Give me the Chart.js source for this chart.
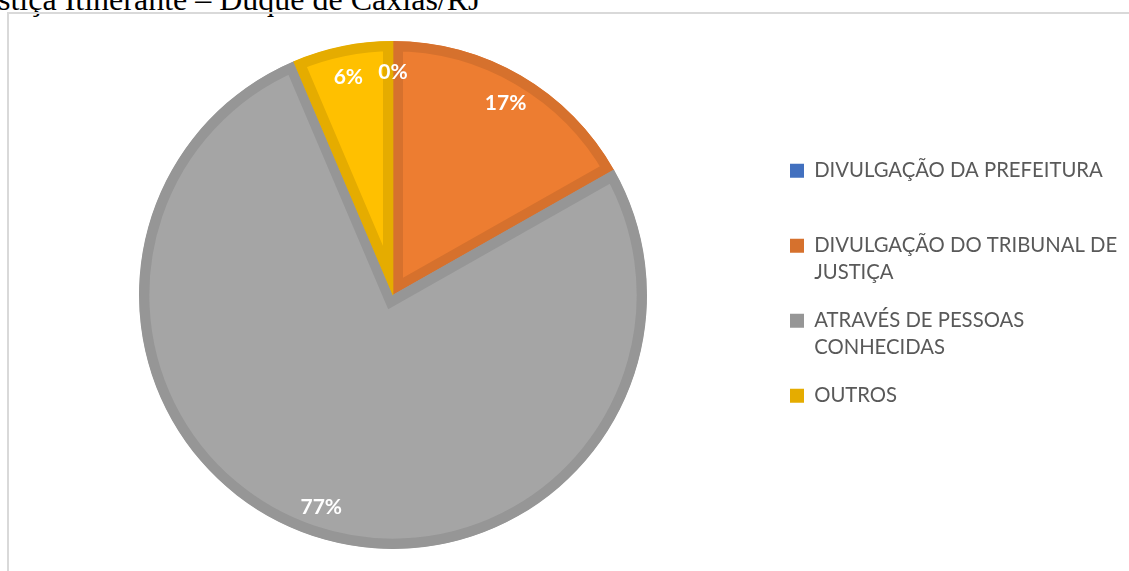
<!DOCTYPE html>
<html>
<head>
<meta charset="utf-8">
<script src="https://cdn.jsdelivr.net/npm/chart.js@4.4.1/dist/chart.umd.min.js"></script>
<style>
  html, body { margin: 0; padding: 0; background: #fff; overflow: hidden; }
  body { width: 1129px; height: 571px; position: relative; }
  #title { position: absolute; left: -2px; top: -17px; font-family: "Liberation Serif", "DejaVu Serif", serif; font-size: 32px; line-height: 1; color: #000; white-space: nowrap; }
  #frame { position: absolute; left: 7px; top: 12px; width: 1140px; height: 580px; border-left: 2px solid #d9d9d9; border-top: 2px solid #d9d9d9; background: transparent; }
  #wrap { position: absolute; left: 0; top: 0; width: 1129px; height: 571px; }
</style>
</head>
<body>
<div id="title">stiça Itinerante – Duque de Caxias/RJ</div>
<div id="frame"></div>
<div id="wrap"><canvas id="c"></canvas></div>
<script>
const categories = [
  ["DIVULGAÇÃO DA PREFEITURA", ""],
  ["DIVULGAÇÃO DO TRIBUNAL DE", "JUSTIÇA"],
  ["ATRAVÉS DE PESSOAS", "CONHECIDAS"],
  ["OUTROS", ""]
];
const shares = [0, 16.8, 76.8, 6.4];
const fillColors = ["#4472C4", "#ED7D31", "#A5A5A5", "#FFC000"];
const borderColors = ["#4270BF", "#D6712D", "#969696", "#E5AC00"];

const pieLabels = {
  id: 'pieLabels',
  afterDatasetsDraw(chart) {
    const ctx = chart.ctx;
    const meta = chart.getDatasetMeta(0);
    const data = chart.data.datasets[0].data;
    const total = data.reduce((a, b) => a + b, 0);
    ctx.save();
    ctx.fillStyle = '#fff';
    ctx.font = 'bold 21px Lato, "Open Sans", sans-serif';
    ctx.textAlign = 'center';
    ctx.textBaseline = 'middle';
    meta.data.forEach((arc, i) => {
      const p = arc.getProps(['x', 'y', 'startAngle', 'endAngle', 'outerRadius'], true);
      const mid = (p.startAngle + p.endAngle) / 2;
      const r = p.outerRadius * 0.88;
      const txt = Math.round(data[i] / total * 100) + '%';
      ctx.fillText(txt, p.x + Math.cos(mid) * r, p.y + Math.sin(mid) * r + 1);
    });
    ctx.restore();
  }
};

const legendShift = {
  id: 'legendShift',
  afterLayout(chart) {
    if (chart.legend) { chart.legend.top += 5; chart.legend.bottom += 5; }
  }
};

const chart = new Chart(document.getElementById('c'), {
  type: 'pie',
  data: {
    labels: categories,
    datasets: [{
      data: shares,
      backgroundColor: fillColors,
      borderColor: borderColors,
      borderWidth: 10,
      borderAlign: 'inner',
      borderJoinStyle: 'miter',
      hoverOffset: 0,
      offset: 0
    }]
  },
  options: {
    responsive: true,
    maintainAspectRatio: false,
    animation: false,
    radius: 254,
    layout: { padding: { top: 41, bottom: 22, left: 4, right: 10 } },
    plugins: {
      tooltip: { enabled: false },
      legend: {
        position: 'right',
        align: 'center',
        labels: {
          boxWidth: 14,
          boxHeight: 14,
          padding: 21,
          color: '#595959',
          font: { family: 'Lato, "Open Sans", sans-serif', size: 20.3, lineHeight: 27 / 20.3 },
          generateLabels(ch) {
            const items = Chart.overrides.doughnut.plugins.legend.labels.generateLabels(ch);
            items.forEach(it => { it.fillStyle = it.strokeStyle; it.lineWidth = 0; });
            return items;
          }
        }
      }
    }
  },
  plugins: [pieLabels, legendShift]
});

// align legend box to x=790 and pie centre to x=393
(function adjust() {
  const pad = chart.options.layout.padding;
  const lg = chart.legend;
  const boxX = lg.left + chart.options.plugins.legend.labels.padding;
  pad.right += boxX - 790;
  chart.update('none');
  const ca = chart.chartArea;
  const cx = (ca.left + ca.right) / 2;
  pad.left += 2 * (393 - cx);
  chart.update('none');
})();
</script>
</body>
</html>
